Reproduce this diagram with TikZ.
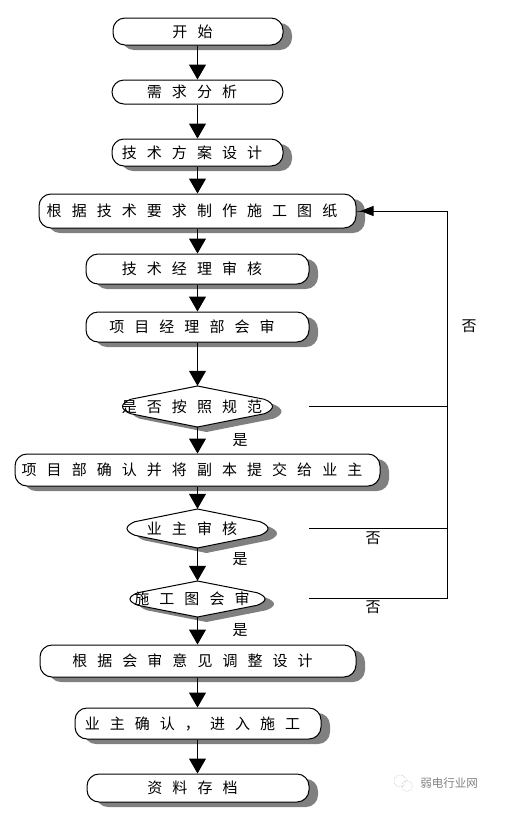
\documentclass[tikz,border=0pt]{standalone}
\usepackage{fontspec}
\usetikzlibrary{arrows.meta, shadows}

\newfontfamily\cjkwide[LetterSpace=67]{Noto Sans CJK SC}
\newfontfamily\cjkplain{Noto Sans CJK SC}
\definecolor{cShadow}{HTML}{808080}

\newcommand{\decideshape}[3]{%
    \begin{scope}[shift={(#1)}]
        \def\decidepath{(0,-#3) -- (#2-8,-0.35*#3) .. controls (#2-3,-0.25*#3) and (#2,-0.12*#3) .. (#2,0)
            .. controls (#2,0.12*#3) and (#2-3,0.25*#3) .. (#2-8,0.35*#3) -- (0,#3)
            -- (8-#2,0.35*#3) .. controls (3-#2,0.25*#3) and (-#2,0.12*#3) .. (-#2,0)
            .. controls (-#2,-0.12*#3) and (3-#2,-0.25*#3) .. (8-#2,-0.35*#3) -- cycle}
        \fill[cShadow, shift={(9,5)}] \decidepath;
        \filldraw[draw=black, fill=white, line width=1pt] \decidepath;
    \end{scope}
}

\begin{document}
\begin{tikzpicture}[
    x=1pt, y=-1pt,
    font=\fontsize{15}{17}\selectfont\cjkwide,
    flow/.style={-{Triangle[length=15pt,width=17pt]}, line width=1pt},
    feedback/.style={line width=1pt},
    stepbox/.style={rectangle, rounded corners=12pt, draw=black, fill=white, line width=1pt, inner sep=0pt, minimum width=#1, execute at end node={\hskip 11pt}},
    shadowbox/.style={stepbox=#1, drop shadow={shadow xshift=9pt, shadow yshift=-5pt, opacity=1, fill=cShadow}},
    decide/.style={rectangle, inner sep=0pt, minimum width=2*#1, execute at end node={\hskip 11pt}},
    answer/.style={font=\fontsize{15}{17}\selectfont\cjkplain, inner sep=0pt},
]

\useasboundingbox (0,0) rectangle (513,828);

\node[shadowbox=170pt, minimum height=27pt] (start) at (198,31.5) {开始};
\node[stepbox=171pt, minimum height=24pt] (needs) at (197.5,92) {需求分析};
\node[shadowbox=171pt, minimum height=27pt] (scheme) at (197.5,152.5) {技术方案设计};
\node[shadowbox=317pt, minimum height=34pt] (drawing) at (197.5,211) {根据技术要求制作施工图纸};
\node[shadowbox=223pt, minimum height=30pt] (techreview) at (197.5,269) {技术经理审核};
\node[shadowbox=223pt, minimum height=30pt] (pmreview) at (197.5,327) {项目经理部会审};

\decideshape{197.5,406.5}{75}{20.5}
\node[decide=75pt, minimum height=41pt] (spec) at (197.5,406.5) {是否按照规范};

\node[shadowbox=365pt, minimum height=32pt] (submit) at (197.5,470) {项目部确认并将副本提交给业主};

\decideshape{197.5,528.5}{70.5}{19.5}
\node[decide=70.5pt, minimum height=39pt] (owner) at (197.5,528.5) {业主审核};

\decideshape{197.5,599}{67.5}{18}
\node[decide=67.5pt, minimum height=36pt] (joint) at (197.5,599) {施工图会审};

\node[shadowbox=316pt, minimum height=32pt] (adjust) at (198,661) {根据会审意见调整设计};
\node[shadowbox=246pt, minimum height=31pt] (confirm) at (198,723.5) {业主确认，进入施工};
\node[shadowbox=222pt, minimum height=28pt] (archive) at (198,788) {资料存档};

\draw[flow] (start.south -| needs) -- (needs.north);
\draw[flow] (needs) -- (scheme);
\draw[flow] (scheme) -- (drawing);
\draw[flow] (drawing) -- (techreview);
\draw[flow] (techreview) -- (pmreview);
\draw[flow] (pmreview) -- (spec);
\draw[flow] (spec) -- (submit);
\draw[flow] (submit) -- (owner);
\draw[flow] (owner) -- (joint);
\draw[flow] (joint) -- (adjust.north -| joint);
\draw[flow] (adjust.south -| joint) -- (confirm.north -| joint);
\draw[flow] (confirm.south -| joint) -- (archive.north -| joint);

\coordinate (specend) at (309,406.5);
\coordinate (ownerend) at (309,528);
\coordinate (jointend) at (309,598.5);
\coordinate (rail) at (447,211);

\draw[feedback] (specend) -- (specend -| rail);
\draw[feedback] (ownerend) -- (ownerend -| rail);
\draw[feedback] (jointend) -| (rail);
\draw[feedback, -{Triangle[length=13pt,width=10pt,sep=0pt]Rectangle[length=4pt,width=1pt]}] (rail) -- (drawing.east);

\node[answer] (specyes) at (240,440) {是};
\node[answer] (owneryes) at (240,559.5) {是};
\node[answer] (jointyes) at (240,630.5) {是};
\node[answer] (railno) at (469,326) {否};
\node[answer] (ownerno) at (373,538) {否};
\node[answer] (jointno) at (373,607) {否};

% watermark
\draw[gray!45, line width=0.6pt, densely dotted] (400,781) circle (6);
\draw[gray!45, line width=0.6pt, densely dotted] (407,786) circle (5.5);
\node[answer, text=gray, font=\fontsize{11.5}{13}\selectfont\cjkplain] (mark) at (449,783.5) {弱电行业网};

\end{tikzpicture}
\end{document}
